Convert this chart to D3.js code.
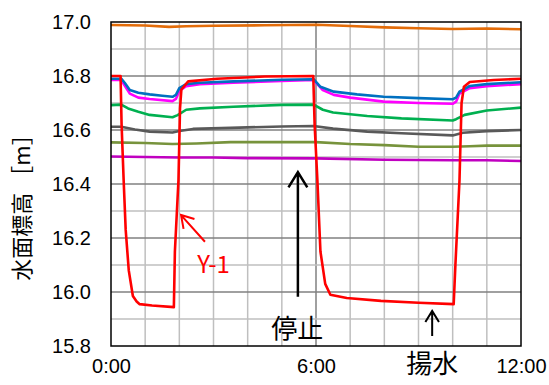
<!DOCTYPE html>
<html>
<head>
<meta charset="utf-8">
<script src="https://cdn.jsdelivr.net/npm/d3@7"></script>
<style>
  body { margin: 0; background: #fff; }
  svg { display: block; }
</style>
</head>
<body>
<div id="chart"></div>
<script>
// water level series, [hour, level m]
const orange = [[0,16.989],[1,16.987],[1.7,16.982],[2.2,16.984],[3,16.986],[4.5,16.988],[6,16.99],[7,16.985],[8,16.98],[9,16.977],[10,16.974],[11,16.976],[12,16.973]];
const y1 = [[0,16.80],[0.28,16.80],[0.31,16.62],[0.37,16.415],[0.43,16.23],[0.52,16.08],[0.64,15.985],[0.75,15.965],[0.84,15.955],[1.2,15.95],[1.84,15.944],[1.87,16.15],[1.975,16.415],[2.02,16.68],[2.06,16.75],[2.26,16.78],[3.1,16.79],[4.5,16.798],[5.92,16.80],[5.96,16.62],[6.04,16.415],[6.13,16.15],[6.27,16.03],[6.42,15.99],[6.9,15.978],[7.9,15.967],[9,15.96],[10.03,15.955],[10.08,16.1],[10.2,16.415],[10.26,16.7],[10.33,16.76],[10.5,16.778],[11.2,16.785],[12,16.79]];
const blue = [[0,16.79],[0.3,16.79],[0.4,16.775],[0.55,16.748],[0.8,16.738],[1.13,16.732],[1.5,16.727],[1.8,16.723],[1.9,16.73],[2.0,16.755],[2.2,16.77],[2.6,16.775],[3.58,16.78],[5,16.786],[5.93,16.788],[6.13,16.76],[6.52,16.742],[7.2,16.732],[7.98,16.723],[9,16.718],[10,16.714],[10.1,16.72],[10.2,16.742],[10.5,16.763],[11,16.77],[12,16.777]];
const magenta = [[0,16.785],[0.3,16.785],[0.4,16.765],[0.55,16.735],[0.8,16.72],[1.13,16.715],[1.8,16.707],[1.9,16.715],[2.0,16.745],[2.2,16.762],[2.6,16.77],[3.58,16.775],[5,16.782],[5.93,16.785],[6.2,16.748],[6.52,16.73],[7,16.72],[7.98,16.705],[9,16.7],[10,16.697],[10.1,16.705],[10.2,16.735],[10.5,16.755],[11,16.762],[12,16.77]];
const green = [[0,16.692],[0.3,16.694],[0.5,16.68],[0.8,16.668],[1.13,16.656],[1.8,16.647],[1.95,16.655],[2.2,16.675],[2.6,16.68],[3.58,16.686],[5,16.693],[5.93,16.694],[6.2,16.675],[6.5,16.665],[7.5,16.652],[8.5,16.643],[10,16.635],[10.1,16.64],[10.35,16.656],[11,16.672],[12,16.683]];
const gray = [[0,16.612],[0.3,16.612],[0.7,16.602],[1.13,16.594],[1.8,16.591],[2,16.596],[2.4,16.604],[3.5,16.608],[5,16.613],[5.93,16.615],[6.5,16.605],[7.5,16.594],[8.5,16.588],[10,16.58],[10.3,16.59],[11,16.596],[12,16.6]];
const olive = [[0,16.554],[1,16.552],[1.8,16.548],[2.5,16.55],[3.5,16.555],[5,16.555],[6,16.555],[7,16.548],[8,16.544],[9,16.538],[10,16.538],[10.5,16.54],[11,16.542],[12,16.542]];
const purple = [[0,16.502],[1,16.5],[2,16.498],[3,16.498],[4,16.496],[6,16.495],[8,16.49],[10,16.488],[11,16.488],[12,16.485]];

const xTickLabels = ["0:00", "6:00", "12:00"];
const yTicks = [15.8, 16.0, 16.2, 16.4, 16.6, 16.8, 17.0];

const series = [
  { data: purple, color: "#c000c0" },
  { data: olive, color: "#77933c" },
  { data: gray, color: "#595959" },
  { data: green, color: "#00b050" },
  { data: magenta, color: "#ff00ff" },
  { data: blue, color: "#0070c0" },
  { data: orange, color: "#e36c09" },
  { data: y1, color: "#ff0000" }
];

const W = 549, H = 385;
const margin = { top: 22, right: 28, bottom: 39, left: 111 };
const width = W - margin.left - margin.right,
  height = H - margin.top - margin.bottom;

const svg = d3.select("#chart").append("svg")
  .attr("width", W).attr("height", H);
const g = svg.append("g")
  .attr("transform", "translate(" + margin.left + "," + margin.top + ")");

const x = d3.scaleLinear().domain([0, 12]).range([0, width]);
const y = d3.scaleLinear().domain([15.8, 17.0]).range([height, 0]);

// grid: hours and 0.1 m, every 0.2 m and 6:00 darker
const hours = d3.range(1, 12);
const levels = d3.range(15.9, 17.0, 0.1).map(v => +v.toFixed(1));
g.selectAll(".vgrid").data(hours).enter().append("line")
  .attr("x1", d => x(d)).attr("x2", d => x(d))
  .attr("y1", 0).attr("y2", height)
  .attr("stroke", d => d === 6 ? "#808080" : "#bfbfbf")
  .attr("stroke-width", 1.5);
g.selectAll(".hgrid").data(levels).enter().append("line")
  .attr("x1", 0).attr("x2", width)
  .attr("y1", d => y(d)).attr("y2", d => y(d))
  .attr("stroke", d => Math.round(d * 10) % 2 === 0 ? "#808080" : "#bfbfbf")
  .attr("stroke-width", 1.5);

// lines
const line = d3.line().x(d => x(d[0])).y(d => y(d[1]));
g.selectAll(".series").data(series).enter().append("path")
  .attr("d", d => line(d.data))
  .attr("fill", "none")
  .attr("stroke", d => d.color)
  .attr("stroke-width", 2.6)
  .attr("stroke-linejoin", "round");

// frame
g.append("rect").attr("width", width).attr("height", height)
  .attr("fill", "none").attr("stroke", "#000").attr("stroke-width", 1.5);

// axes
const yAxis = g.append("g")
  .call(d3.axisLeft(y).tickValues(yTicks).tickSize(0).tickPadding(20).tickFormat(d3.format(".1f")));
yAxis.select(".domain").remove();
yAxis.selectAll("text").attr("font-family", "Liberation Sans, Arial, sans-serif")
  .attr("font-size", 20).attr("fill", "#000");

const xAxis = g.append("g")
  .attr("transform", "translate(0," + height + ")")
  .call(d3.axisBottom(x).tickValues([0, 6, 12]).tickSize(0).tickPadding(13)
    .tickFormat((d, i) => xTickLabels[i]));
xAxis.select(".domain").remove();
xAxis.selectAll("text").attr("font-family", "Liberation Sans, Arial, sans-serif")
  .attr("font-size", 20).attr("fill", "#000");

// y title
svg.append("text")
  .attr("transform", "translate(20," + 202 + ") rotate(-90)")
  .attr("text-anchor", "middle").attr("dominant-baseline", "central")
  .attr("font-family", "Noto Sans CJK JP").attr("font-size", 22)
  .text("水面標高 ［m］");

// annotations
const jp = "Noto Sans CJK JP";
function arrow(x0, y0, x1, y1, color, w, head) {
  const ang = Math.atan2(y1 - y0, x1 - x0);
  const a1 = ang + Math.PI - 0.55, a2 = ang + Math.PI + 0.55;
  g.append("path")
    .attr("d", "M" + x0 + "," + y0 + "L" + x1 + "," + y1 +
      "M" + (x1 + head * Math.cos(a1)) + "," + (y1 + head * Math.sin(a1)) +
      "L" + x1 + "," + y1 +
      "L" + (x1 + head * Math.cos(a2)) + "," + (y1 + head * Math.sin(a2)))
    .attr("fill", "none").attr("stroke", color).attr("stroke-width", w)
    .attr("stroke-linecap", "butt").attr("stroke-linejoin", "miter");
}
arrow(x(2.75), y(16.186), x(2.05), y(16.285), "#ff0000", 2, 14);
g.append("text").attr("x", x(3.0)).attr("y", y(16.111))
  .attr("text-anchor", "middle").attr("dominant-baseline", "central")
  .attr("font-family", jp).attr("font-size", 24).attr("fill", "#ff0000")
  .text("Y-1");

arrow(x(5.47), y(15.982), x(5.47), y(16.444), "#000", 2.5, 18);
g.append("text").attr("x", x(5.45)).attr("y", y(15.874))
  .attr("text-anchor", "middle").attr("dominant-baseline", "central")
  .attr("font-family", jp).attr("font-size", 26).attr("fill", "#000")
  .text("停止");

arrow(x(9.4), y(15.837), x(9.4), y(15.93), "#000", 2, 13);
g.append("text").attr("x", x(9.4)).attr("y", y(15.741))
  .attr("text-anchor", "middle").attr("dominant-baseline", "central")
  .attr("font-family", jp).attr("font-size", 26).attr("fill", "#000")
  .text("揚水");
</script>
</body>
</html>
